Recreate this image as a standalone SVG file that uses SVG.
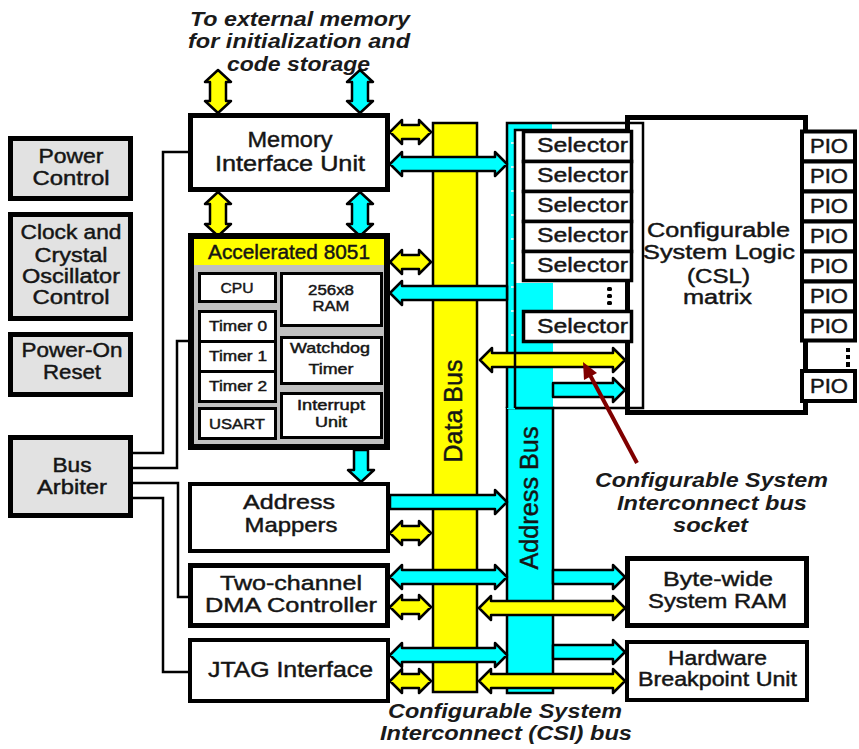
<svg xmlns="http://www.w3.org/2000/svg" width="859" height="749" viewBox="0 0 859 749">
<style>
.t{font-family:"Liberation Sans",Arial,Helvetica,sans-serif;fill:#151515;stroke:#151515;stroke-width:0.45;text-anchor:middle}
.s{text-anchor:start}
.it{font-style:italic;font-weight:bold;font-size:21px;fill:#1a1a1a;stroke:none}
.gbox{fill:#e2e2e2;stroke:#000;stroke-width:5}
.box{fill:#fff;stroke:#000}
.ib{fill:#fff;stroke:#000;stroke-width:3}
.ya{fill:#ffff00;stroke:#000;stroke-width:2.5;stroke-linejoin:round}
.ca{fill:#00ffff;stroke:#000;stroke-width:2.5;stroke-linejoin:round}
.wire{fill:none;stroke:#000;stroke-width:2.5}
.sel{fill:#fff;stroke:#000;stroke-width:3.5}
.pio{fill:#fff;stroke:#000;stroke-width:4}
</style>
<rect width="859" height="749" fill="#fff"/>

<g id="caption-top">
<text class="t it" x="300" y="26" textLength="220" lengthAdjust="spacingAndGlyphs">To external memory</text>
<text class="t it" x="299" y="48" textLength="222" lengthAdjust="spacingAndGlyphs">for initialization and</text>
<text class="t it" x="298.5" y="71" textLength="143" lengthAdjust="spacingAndGlyphs">code storage</text>
</g>

<g id="data-bus">
<rect x="433" y="123" width="44" height="569" fill="#ffff00" stroke="#000" stroke-width="2.5"/>
<text class="t" transform="translate(462,411) rotate(-90)" font-size="25" textLength="103" lengthAdjust="spacingAndGlyphs">Data Bus</text>
</g>

<g id="csl">
<rect x="627.5" y="117.5" width="178" height="295" class="box" stroke-width="5"/>
<text class="t" x="718.5" y="237" font-size="20" textLength="143" lengthAdjust="spacingAndGlyphs">Configurable</text>
<text class="t" x="719" y="259" font-size="20" textLength="152" lengthAdjust="spacingAndGlyphs">System Logic</text>
<text class="t" x="718.5" y="283" font-size="20" textLength="63" lengthAdjust="spacingAndGlyphs">(CSL)</text>
<text class="t" x="717.5" y="304" font-size="20" textLength="69" lengthAdjust="spacingAndGlyphs">matrix</text>
</g>

<g id="address-bus">
<rect x="507" y="408" width="46" height="285" fill="#00ffff" stroke="#000" stroke-width="2.5"/>
<rect x="515" y="283" width="38" height="126" fill="#00ffff"/>
<rect x="507" y="123" width="8" height="286" fill="#00ffff"/>
<rect x="507" y="123" width="45" height="7" fill="#00ffff"/>
<polyline class="wire" points="507,408 507,123 643,123 643,408 515,408"/>
<path d="M511,143h3M511,167h3M511,191h3M511,215h3M511,239h3M511,263h3M511,287h3M511,311h3M511,335h3" stroke="#fff" stroke-width="1.5"/>
<text class="t" transform="translate(538,498) rotate(-90)" font-size="25" textLength="143" lengthAdjust="spacingAndGlyphs">Address Bus</text>
</g>

<g id="connectors">
<polygon class="ya" points="218,70 231,82 226,82 226,101 231,101 218,113 205,101 210,101 210,82 205,82"/>
<polygon class="ca" points="360,70 373,82 368,82 368,101 373,101 360,113 347,101 352,101 352,82 347,82"/>
<polygon class="ya" points="218,192 231,204 226,204 226,224 231,224 218,236 205,224 210,224 210,204 205,204"/>
<polygon class="ca" points="360,192 373,204 368,204 368,224 373,224 360,236 347,224 352,224 352,204 347,204"/>
<polygon class="ca" points="354,450 368,450 368,470 374,470 361,482 348,470 354,470"/>

<polygon class="ya" points="390,132 402,120 402,125 419,125 419,120 431,132 419,144 419,139 402,139 402,144"/>
<polygon class="ca" points="390,164 402,152 402,157 495,157 495,152 507,164 495,176 495,171 402,171 402,176"/>
<polygon class="ya" points="390,262 402,250 402,255 419,255 419,250 431,262 419,274 419,269 402,269 402,274"/>
<polygon class="ca" points="390,293 402,281 402,286 507,286 507,300 402,300 402,305"/>
<polygon class="ca" points="390,495 495,495 495,490 507,502 495,514 495,509 390,509"/>
<polygon class="ya" points="390,533 402,521 402,526 419,526 419,521 431,533 419,545 419,540 402,540 402,545"/>
<polygon class="ca" points="390,577 402,565 402,570 495,570 495,565 507,577 495,589 495,584 402,584 402,589"/>
<polygon class="ya" points="390,607 402,595 402,600 419,600 419,595 431,607 419,619 419,614 402,614 402,619"/>
<polygon class="ca" points="390,655 402,643 402,648 495,648 495,643 507,655 495,667 495,662 402,662 402,667"/>
<polygon class="ya" points="390,681 402,669 402,674 419,674 419,669 431,681 419,693 419,688 402,688 402,693"/>
<polygon class="ca" points="553,570 613,570 613,565 625,577 613,589 613,584 553,584"/>
<polygon class="ya" points="479,608 491,596 491,601 613,601 613,596 625,608 613,620 613,615 491,615 491,620"/>
<polygon class="ca" points="553,645 613,645 613,640 625,652 613,664 613,659 553,659"/>
<polygon class="ya" points="479,681 491,669 491,674 613,674 613,669 625,681 613,693 613,688 491,688 491,693"/>
<polygon class="ya" points="480,360 492,348 492,353 613,353 613,348 625,360 613,372 613,367 492,367 492,372"/>
<polygon class="ca" points="553,383 613,383 613,378 625,390 613,402 613,397 553,397"/>
<polyline class="wire" points="515,408 515,130 630,130"/>

<polyline class="wire" points="133,453 163,453 163,152 188,152"/>
<polyline class="wire" points="133,468 177,468 177,341 188,341"/>
<polyline class="wire" points="133,483 178,483 178,597 188,597"/>
<polyline class="wire" points="133,498 163,498 163,672 188,672"/>

<line x1="637" y1="463" x2="590" y2="375" stroke="#800000" stroke-width="4"/>
<polygon points="583,362 597,373 584,380" fill="#800000"/>
</g>

<g id="selectors">
<rect class="sel" x="523.5" y="131.5" width="108" height="30"/>
<rect class="sel" x="523.5" y="161.5" width="108" height="30"/>
<rect class="sel" x="523.5" y="191.5" width="108" height="30"/>
<rect class="sel" x="523.5" y="221.5" width="108" height="30"/>
<rect class="sel" x="523.5" y="251.5" width="108" height="29"/>
<rect class="sel" x="523.5" y="311.5" width="108" height="30"/>
<text class="t s" x="537" y="152" font-size="21" textLength="91" lengthAdjust="spacingAndGlyphs">Selector</text>
<text class="t s" x="537" y="182" font-size="21" textLength="91" lengthAdjust="spacingAndGlyphs">Selector</text>
<text class="t s" x="537" y="212" font-size="21" textLength="91" lengthAdjust="spacingAndGlyphs">Selector</text>
<text class="t s" x="537" y="242" font-size="21" textLength="91" lengthAdjust="spacingAndGlyphs">Selector</text>
<text class="t s" x="537" y="272" font-size="21" textLength="91" lengthAdjust="spacingAndGlyphs">Selector</text>
<text class="t s" x="537" y="333" font-size="21" textLength="91" lengthAdjust="spacingAndGlyphs">Selector</text>
<rect x="607" y="287" width="5" height="4" rx="1.5" fill="#000"/>
<rect x="607" y="294" width="5" height="4" rx="1.5" fill="#000"/>
<rect x="607" y="301" width="5" height="4" rx="1.5" fill="#000"/>
</g>

<g id="pio">
<rect class="pio" x="802" y="131.5" width="53" height="30"/>
<rect class="pio" x="802" y="161.5" width="53" height="30"/>
<rect class="pio" x="802" y="191.5" width="53" height="30"/>
<rect class="pio" x="802" y="221.5" width="53" height="30"/>
<rect class="pio" x="802" y="251.5" width="53" height="30"/>
<rect class="pio" x="802" y="281.5" width="53" height="30"/>
<rect class="pio" x="802" y="311.5" width="53" height="29"/>
<rect class="pio" x="802" y="371" width="53" height="30"/>
<text class="t s" x="810" y="153" font-size="21" textLength="38" lengthAdjust="spacingAndGlyphs">PIO</text>
<text class="t s" x="810" y="183" font-size="21" textLength="38" lengthAdjust="spacingAndGlyphs">PIO</text>
<text class="t s" x="810" y="213" font-size="21" textLength="38" lengthAdjust="spacingAndGlyphs">PIO</text>
<text class="t s" x="810" y="243" font-size="21" textLength="38" lengthAdjust="spacingAndGlyphs">PIO</text>
<text class="t s" x="810" y="273" font-size="21" textLength="38" lengthAdjust="spacingAndGlyphs">PIO</text>
<text class="t s" x="810" y="303" font-size="21" textLength="38" lengthAdjust="spacingAndGlyphs">PIO</text>
<text class="t s" x="810" y="333" font-size="21" textLength="38" lengthAdjust="spacingAndGlyphs">PIO</text>
<text class="t s" x="810" y="393" font-size="21" textLength="38" lengthAdjust="spacingAndGlyphs">PIO</text>
<rect x="846" y="348" width="4" height="4" fill="#000"/>
<rect x="846" y="355" width="4" height="4" fill="#000"/>
<rect x="846" y="362" width="4" height="5" fill="#000"/>
</g>

<g id="power-control">
<rect class="gbox" x="10.5" y="138.5" width="120" height="60"/>
<text class="t" x="71" y="163" font-size="20" textLength="65" lengthAdjust="spacingAndGlyphs">Power</text>
<text class="t" x="71" y="185" font-size="20" textLength="77" lengthAdjust="spacingAndGlyphs">Control</text>
</g>
<g id="clock">
<rect class="gbox" x="10.5" y="214.5" width="120" height="104"/>
<text class="t" x="71" y="239" font-size="20" textLength="101" lengthAdjust="spacingAndGlyphs">Clock and</text>
<text class="t" x="71" y="262" font-size="20" textLength="73" lengthAdjust="spacingAndGlyphs">Crystal</text>
<text class="t" x="71" y="283" font-size="20" textLength="98" lengthAdjust="spacingAndGlyphs">Oscillator</text>
<text class="t" x="71" y="304" font-size="20" textLength="77" lengthAdjust="spacingAndGlyphs">Control</text>
</g>
<g id="power-on-reset">
<rect class="gbox" x="10.5" y="334.5" width="120" height="60"/>
<text class="t" x="72" y="357" font-size="20" textLength="101" lengthAdjust="spacingAndGlyphs">Power-On</text>
<text class="t" x="72" y="379" font-size="20" textLength="58" lengthAdjust="spacingAndGlyphs">Reset</text>
</g>
<g id="bus-arbiter">
<rect class="gbox" x="10.5" y="437.5" width="120" height="78"/>
<text class="t" x="72" y="472" font-size="20" textLength="39" lengthAdjust="spacingAndGlyphs">Bus</text>
<text class="t" x="72" y="494" font-size="20" textLength="70" lengthAdjust="spacingAndGlyphs">Arbiter</text>
</g>

<g id="memory-interface">
<rect class="box" x="190.5" y="115.5" width="197" height="74" stroke-width="5"/>
<text class="t" x="290" y="147" font-size="22" textLength="85" lengthAdjust="spacingAndGlyphs">Memory</text>
<text class="t" x="290" y="171" font-size="22" textLength="150" lengthAdjust="spacingAndGlyphs">Interface Unit</text>
</g>

<g id="accelerated-8051">
<rect x="191" y="236" width="196" height="211" fill="#c0c0c0" stroke="#000" stroke-width="6"/>
<rect x="194" y="239" width="190" height="26" fill="#ffff00"/>
<text class="t" x="289" y="259" font-size="20" textLength="162" lengthAdjust="spacingAndGlyphs">Accelerated 8051</text>
<rect class="ib" x="199.5" y="273.5" width="76" height="28"/>
<rect class="ib" x="199.5" y="311.5" width="76" height="30"/>
<rect class="ib" x="199.5" y="341.5" width="76" height="30"/>
<rect class="ib" x="199.5" y="371.5" width="76" height="30"/>
<rect class="ib" x="199.5" y="408.5" width="76" height="30"/>
<rect class="ib" x="281.5" y="273.5" width="100" height="52"/>
<rect class="ib" x="281.5" y="337.5" width="100" height="46"/>
<rect class="ib" x="281.5" y="393.5" width="100" height="44"/>
<text class="t" x="237" y="293" font-size="15" textLength="33" lengthAdjust="spacingAndGlyphs">CPU</text>
<text class="t" x="238" y="331" font-size="15" textLength="58" lengthAdjust="spacingAndGlyphs">Timer 0</text>
<text class="t" x="238" y="361" font-size="15" textLength="58" lengthAdjust="spacingAndGlyphs">Timer 1</text>
<text class="t" x="238" y="391" font-size="15" textLength="58" lengthAdjust="spacingAndGlyphs">Timer 2</text>
<text class="t" x="237" y="429" font-size="15" textLength="56" lengthAdjust="spacingAndGlyphs">USART</text>
<text class="t" x="331" y="295" font-size="15" textLength="46" lengthAdjust="spacingAndGlyphs">256x8</text>
<text class="t" x="331" y="311" font-size="15" textLength="37" lengthAdjust="spacingAndGlyphs">RAM</text>
<text class="t" x="330" y="353" font-size="15" textLength="80" lengthAdjust="spacingAndGlyphs">Watchdog</text>
<text class="t" x="331" y="374" font-size="15" textLength="45" lengthAdjust="spacingAndGlyphs">Timer</text>
<text class="t" x="331" y="410" font-size="14" textLength="68" lengthAdjust="spacingAndGlyphs">Interrupt</text>
<text class="t" x="331" y="427" font-size="14" textLength="32" lengthAdjust="spacingAndGlyphs">Unit</text>
</g>

<g id="address-mappers">
<rect class="box" x="190" y="484" width="198" height="67" stroke-width="4"/>
<text class="t" x="289" y="509" font-size="21" textLength="92" lengthAdjust="spacingAndGlyphs">Address</text>
<text class="t" x="291" y="532" font-size="21" textLength="93" lengthAdjust="spacingAndGlyphs">Mappers</text>
</g>
<g id="dma">
<rect class="box" x="190.5" y="565.5" width="197" height="60" stroke-width="5"/>
<text class="t" x="291" y="590" font-size="20.5" textLength="142" lengthAdjust="spacingAndGlyphs">Two-channel</text>
<text class="t" x="291" y="612" font-size="20.5" textLength="172" lengthAdjust="spacingAndGlyphs">DMA Controller</text>
</g>
<g id="jtag">
<rect class="box" x="190" y="640" width="198" height="61" stroke-width="4"/>
<text class="t" x="290.5" y="677" font-size="22" textLength="165" lengthAdjust="spacingAndGlyphs">JTAG Interface</text>
</g>
<g id="system-ram">
<rect class="box" x="627.5" y="558.5" width="179" height="67" stroke-width="5"/>
<text class="t" x="718" y="586" font-size="21" textLength="110" lengthAdjust="spacingAndGlyphs">Byte-wide</text>
<text class="t" x="717.5" y="608" font-size="21" textLength="139" lengthAdjust="spacingAndGlyphs">System RAM</text>
</g>
<g id="breakpoint">
<rect class="box" x="627" y="642" width="180" height="58" stroke-width="4"/>
<text class="t" x="717.5" y="665" font-size="20" textLength="99" lengthAdjust="spacingAndGlyphs">Hardware</text>
<text class="t" x="717.5" y="686" font-size="20" textLength="159" lengthAdjust="spacingAndGlyphs">Breakpoint Unit</text>
</g>

<g id="caption-socket">
<text class="t it" x="711.5" y="487" textLength="233" lengthAdjust="spacingAndGlyphs">Configurable System</text>
<text class="t it" x="712" y="510" textLength="190" lengthAdjust="spacingAndGlyphs">Interconnect bus</text>
<text class="t it" x="710.5" y="532" textLength="75" lengthAdjust="spacingAndGlyphs">socket</text>
</g>
<g id="caption-bottom">
<text class="t it" x="505" y="718" textLength="234" lengthAdjust="spacingAndGlyphs">Configurable System</text>
<text class="t it" x="506" y="740" textLength="252" lengthAdjust="spacingAndGlyphs">Interconnect (CSI) bus</text>
</g>
</svg>
